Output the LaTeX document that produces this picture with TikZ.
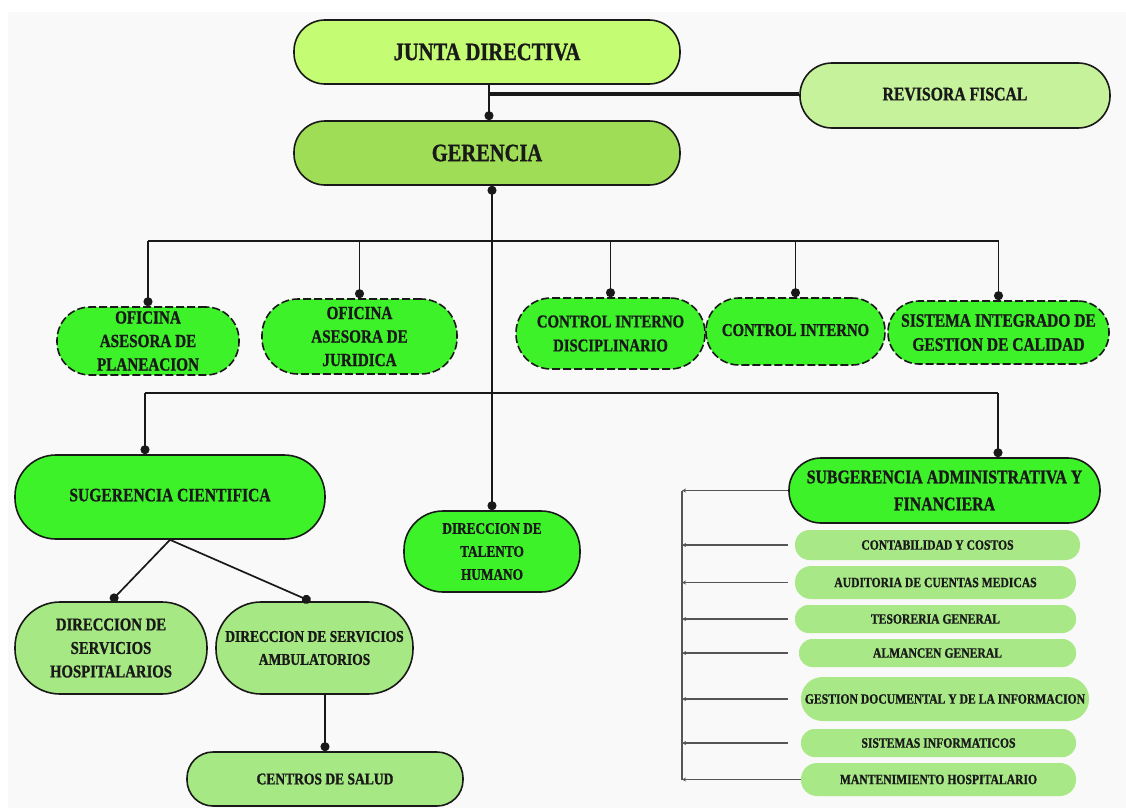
\documentclass[tikz,border=0pt]{standalone}
\usepackage{fontspec}
\setmainfont{Liberation Serif}[FakeStretch=0.82, BoldFeatures={FakeBold=1}]
\usetikzlibrary{arrows.meta,positioning}

\definecolor{bgcol}{HTML}{F9F9F9}
\definecolor{juntacol}{HTML}{C4FC74}
\definecolor{gercol}{HTML}{9EDD55}
\definecolor{revcol}{HTML}{C5F29B}
\definecolor{vivcol}{HTML}{3EF22A}
\definecolor{dircol}{HTML}{A6E883}
\definecolor{subcol}{HTML}{A8E886}
\definecolor{arrcol}{HTML}{555555}

\newcommand{\fz}[2]{\fontsize{#1pt}{#2pt}\selectfont\bfseries}

\begin{document}
\begin{tikzpicture}[x=1pt, y=-1pt, node distance=6pt]
\tikzstyle{pill} = [rectangle, inner sep=0pt, align=center, text=black!90,
  minimum width=#1pt]
\tikzstyle{box} = [draw=black!90, line width=1.6pt]
\tikzstyle{dbox} = [box, dash pattern=on 8pt off 3pt, fill=vivcol]
\tikzstyle{conn} = [line width=1.7pt, black!90, -{Circle[length=9pt]}]
\tikzstyle{arr} = [line width=1.2pt, arrcol, -{Stealth[length=4pt,width=4pt]}]
\useasboundingbox (0,0) rectangle (1126,808);
\fill[bgcol] (8,12) rectangle (1126,808);

% top
\node[pill=386, box, fill=juntacol, minimum height=64pt, rounded corners=31pt,
  font=\fz{25}{30}] (junta) at (487,52) {JUNTA DIRECTIVA};
\node[pill=386, box, fill=gercol, minimum height=64pt, rounded corners=31pt,
  font=\fz{25}{30}] (ger) at (487,153) {GERENCIA};
\node[pill=310, box, fill=revcol, minimum height=65pt, rounded corners=32pt,
  font=\fz{19.2}{24}] (rev) at (955,95.5) {\raisebox{3pt}{REVISORA FISCAL}};
\coordinate (jr) at (489,94);
\draw[line width=3.4pt, black!90] (jr) -- (jr -| rev.west);
\draw[conn] (junta.south -| jr) -- (ger.north -| jr);

% oficinas
\node[pill=182, dbox, minimum height=68pt, rounded corners=33pt,
  font=\fz{18.5}{23.5}] (ofpla) at (148,341) {OFICINA\\ASESORA DE\\PLANEACION};
\node[pill=195, dbox, minimum height=75pt, rounded corners=36pt,
  font=\fz{18.5}{23.5}] (ofjur) at (359.5,336.5) {OFICINA\\ASESORA DE\\JURIDICA};
\node[pill=189, dbox, minimum height=71pt, rounded corners=35pt,
  font=\fz{18}{24}] (cid) at (610.5,333.5) {CONTROL INTERNO\\DISCIPLINARIO};
\node[pill=179, dbox, minimum height=67pt, rounded corners=33pt,
  font=\fz{18}{24}] (ci) at (795.5,331.5) {\raisebox{3pt}{CONTROL INTERNO}};
\node[pill=221, dbox, minimum height=63pt, rounded corners=31pt,
  font=\fz{18.9}{24}] (sigc) at (998.5,332.5) {SISTEMA INTEGRADO DE\\GESTION DE CALIDAD};

\coordinate (bus1) at (490,241);
\draw[line width=1.7pt, black!90] (ofpla |- bus1) -- (sigc |- bus1);
\foreach \n in {ofpla, ofjur, cid, ci, sigc}
  \draw[conn] (\n |- bus1) -- (\n.north);

% subgerencias
\node[pill=310, box, fill=vivcol, minimum height=84pt, rounded corners=41pt,
  font=\fz{19}{24}] (sug) at (170,497) {\raisebox{4pt}{SUGERENCIA CIENTIFICA}};
\node[pill=176, box, fill=vivcol, minimum height=81pt, rounded corners=39pt,
  font=\fz{16.2}{23}] (tal) at (492,551.5) {DIRECCION DE\\TALENTO\\HUMANO};
\node[pill=311, box, fill=vivcol, minimum height=65pt, rounded corners=32pt,
  font=\fz{19.3}{27}] (subg) at (944.5,490.5) {SUBGERENCIA ADMINISTRATIVA Y\\FINANCIERA};

\coordinate (b2l) at (145,393);
\coordinate (b2r) at (998,393);
\draw[line width=1.7pt, black!90] (b2l) -- (b2r);
\draw[conn] (b2l) -- (b2l |- sug.north);
\draw[conn] (b2r) -- (b2r |- subg.north);
\draw[line width=1.7pt, black!90, {Circle[length=9pt]}-{Circle[length=9pt]}]
  (ger.south -| tal) -- (tal.north);

% direcciones
\node[pill=192, box, fill=dircol, minimum height=92pt, rounded corners=45pt,
  font=\fz{18}{23.5}] (hosp) at (111,648) {DIRECCION DE\\SERVICIOS\\HOSPITALARIOS};
\node[pill=197, box, fill=dircol, minimum height=92pt, rounded corners=45pt,
  font=\fz{16.5}{23}] (amb) at (314.5,648) {DIRECCION DE SERVICIOS\\AMBULATORIOS};
\node[pill=276, box, fill=dircol, minimum height=54pt, rounded corners=26pt,
  font=\fz{16.5}{22}] (cen) at (325,779) {CENTROS DE SALUD};
\draw[conn] (sug.south) -- (hosp.north);
\draw[conn] (sug.south) -- ([xshift=-4pt]amb.north);
\draw[conn] (cen |- amb.south) -- (cen.north);

% areas administrativas
\node[pill=285, fill=subcol, minimum height=30pt, rounded corners=14.5pt,
  font=\fz{14.2}{16}] (cont) at (937.5,545) {CONTABILIDAD Y COSTOS};
\node[pill=281, fill=subcol, minimum height=33pt, rounded corners=16pt,
  font=\fz{14.2}{16}] (audi) at (935.5,582.5) {AUDITORIA DE CUENTAS MEDICAS};
\node[pill=281, fill=subcol, minimum height=28pt, rounded corners=13.5pt,
  font=\fz{14.2}{16}] (teso) at (935.5,619) {TESORERIA GENERAL};
\node[pill=277, fill=subcol, minimum height=28pt, rounded corners=13.5pt,
  font=\fz{14.2}{16}] (alma) at (937.5,653) {ALMANCEN GENERAL};
\node[pill=288, fill=subcol, minimum height=44pt, rounded corners=21.5pt,
  font=\fz{14.2}{16}] (gest) at (945,699) {GESTION DOCUMENTAL Y DE LA INFORMACION};
\node[pill=275, fill=subcol, minimum height=28pt, rounded corners=13.5pt,
  font=\fz{14.2}{16}] (sist) at (938.5,743) {SISTEMAS INFORMATICOS};
\node[pill=275, fill=subcol, minimum height=33pt, rounded corners=16pt,
  font=\fz{14.2}{16}] (mant) at (938.5,779.5) {MANTENIMIENTO HOSPITALARIO};

\coordinate (vbar) at (682,491);
\coordinate (xst) at (788,0);
\draw[line width=1.2pt, arrcol] (vbar) -- (vbar |- mant.west);
\draw[arr] (subg.west) -- (subg.west -| vbar);
\foreach \n in {cont, audi, teso, alma, gest, sist}
  \draw[arr] (\n.west -| xst) -- (\n.west -| vbar);
\draw[arr] (mant.west) -- (mant.west -| vbar);
\end{tikzpicture}
\end{document}
